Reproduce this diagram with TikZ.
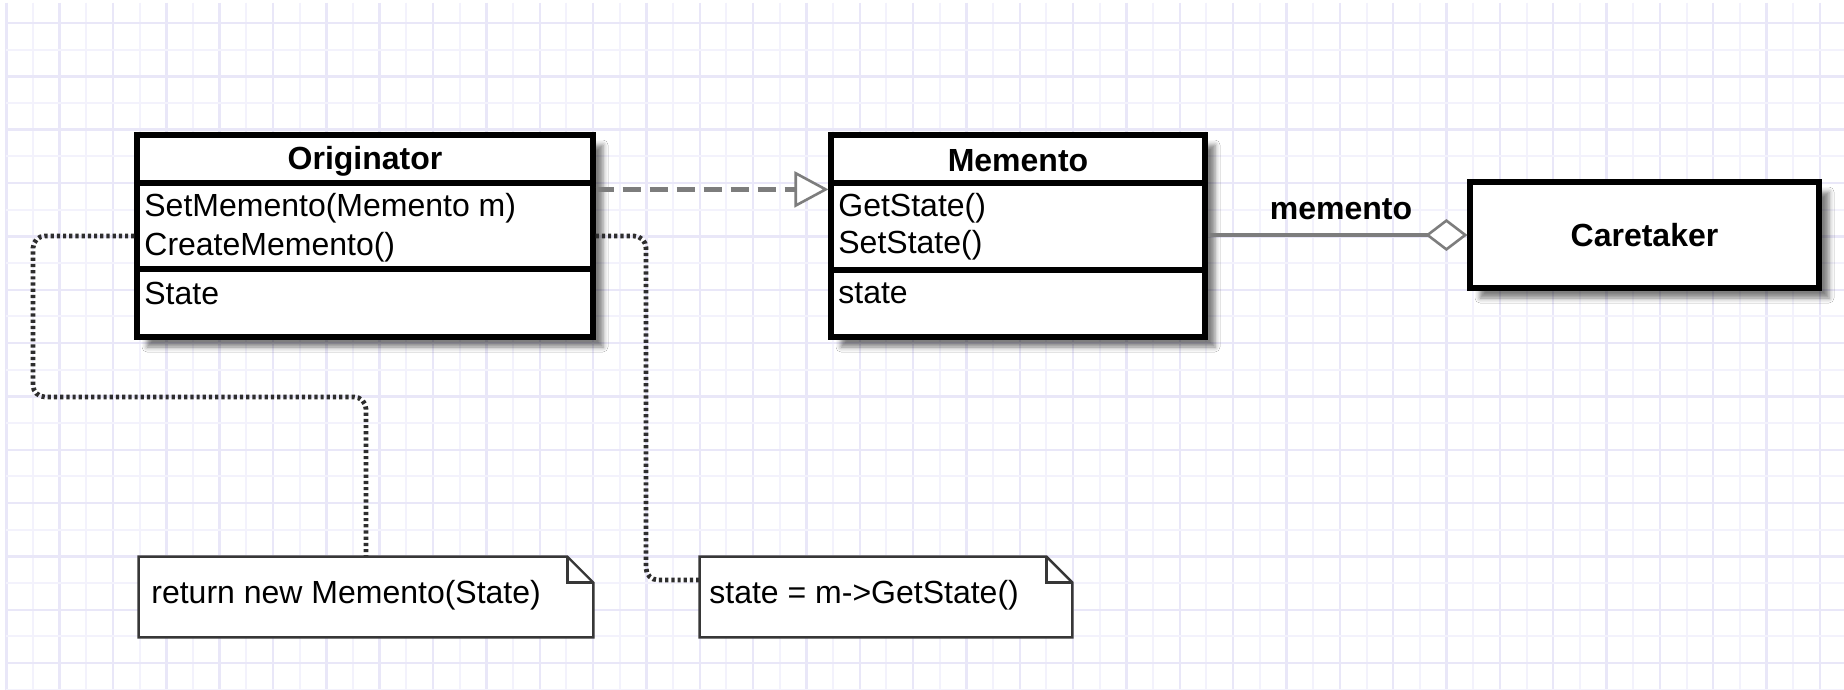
\documentclass[tikz,border=0pt]{standalone}
\usepackage{fontspec}
\setmainfont{Liberation Sans}
\usetikzlibrary{arrows.meta,shadows.blur}
\definecolor{gridmaj}{RGB}{233,231,248}
\definecolor{gridmin}{RGB}{243,242,252}
\definecolor{conn}{RGB}{125,125,125}
\definecolor{dotc}{RGB}{45,45,45}
\definecolor{notec}{RGB}{55,55,55}
\begin{document}
\begin{tikzpicture}[x=0.5pt,y=-0.5pt,
  every node/.style={font=\fontsize{16}{19.5}\selectfont},
  classbox/.style={draw=black, line width=2.6pt, fill=white, inner sep=0pt,
    blur shadow={shadow xshift=5pt, shadow yshift=-5pt, shadow blur radius=2.5pt, shadow opacity=50}},
  divider/.style={draw=black, line width=2.6pt},
  lbl/.style={inner sep=0pt, anchor=west},
  ttl/.style={inner sep=0pt, font=\fontsize{16}{19.5}\selectfont\bfseries},
  noteshape/.style={minimum width=#1, minimum height=40pt, inner sep=0pt},
  noteline/.style={draw=notec, line width=1.2pt, fill=white},
  dotline/.style={draw=dotc, line width=2.4pt, dash pattern=on 1.6pt off 1.5pt, rounded corners=6pt},
  realize/.style={draw=conn, line width=2.2pt, dash pattern=on 9pt off 4.5pt,
    -{Triangle[length=17pt,width=18pt,fill=white,line width=1.3pt]}},
  aggr/.style={draw=conn, line width=2pt,
    {Diamond[length=21pt,width=16pt,fill=white,line width=1.3pt]}-}]
\useasboundingbox (0,0) rectangle (1844,690);
\fill[white] (0,0) rectangle (1844,690);
% grid
\foreach \k in {0,...,34} {
  \draw[gridmaj, line width=1.2pt] ({6.3+53.34*\k},3) -- ++(0,687);
  \draw[gridmin, line width=1pt] ({33+53.34*\k},3) -- ++(0,687);
}
\foreach \j in {0,...,12} {
  \draw[gridmaj, line width=1.2pt] (6,{23+53.34*\j}) -- ++(1838,0);
  \draw[gridmin, line width=1pt] (6,{49.7+53.34*\j}) -- ++(1838,0);
}
% classes
\node[classbox, minimum width=228pt, minimum height=101pt] (orig) at (365,236) {};
\node[classbox, minimum width=187pt, minimum height=101pt] (mem) at (1018,236) {};
\node[classbox, minimum width=174.5pt, minimum height=53pt, font=\fontsize{16}{19.5}\selectfont\bfseries] (care) at (1644.5,235) {Caretaker};
\draw[divider] (orig.west |- 0,183) -- (orig.east |- 0,183);
\draw[divider] (orig.west |- 0,269) -- (orig.east |- 0,269);
\draw[divider] (mem.west |- 0,183) -- (mem.east |- 0,183);
\draw[divider] (mem.west |- 0,270) -- (mem.east |- 0,270);
\node[ttl] (orig-title) at (365,161) {Originator};
\node[lbl] (orig-op1) at (144,208) {SetMemento(Memento m)};
\node[lbl] (orig-op2) at (144,247) {CreateMemento()};
\node[lbl] (orig-attr) at (144,293) {State};
\node[ttl] (mem-title) at (1018,161) {Memento};
\node[lbl] (mem-op1) at (838,208) {GetState()};
\node[lbl] (mem-op2) at (838,245) {SetState()};
\node[lbl] (mem-attr) at (838,293) {state};
% notes
\node[noteshape=227pt] (note1) at (366,597) {};
\node[noteshape=186pt] (note2) at (886,597) {};
% connectors
\draw[dotline] (orig.west) -| (33,397) -| (note1.north);
\draw[dotline] (orig.east) -| (646,580) -- ([yshift=8.5pt]note2.west);
\draw[realize] ([yshift=-28.5pt]orig.north east) -- ([yshift=-28.5pt]mem.north west);
\draw[aggr] (care.west) -- (care.west -| mem.east);
\node[ttl] (memlbl) at (1341,209) {memento};
% note outlines
\foreach \n in {note1,note2} {
  \draw[noteline] (\n.south west) -- (\n.north west) -- ([xshift=-13pt]\n.north east)
    -- ([yshift=-13pt]\n.north east) -- (\n.south east) -- cycle;
  \draw[noteline, fill=none] ([xshift=-13pt]\n.north east) |- ([yshift=-13pt]\n.north east);
}
\node[lbl] (note1-txt) at (151,595) {return new Memento(State)};
\node[lbl] (note2-txt) at (709,595) {state = m->GetState()};
\end{tikzpicture}
\end{document}
